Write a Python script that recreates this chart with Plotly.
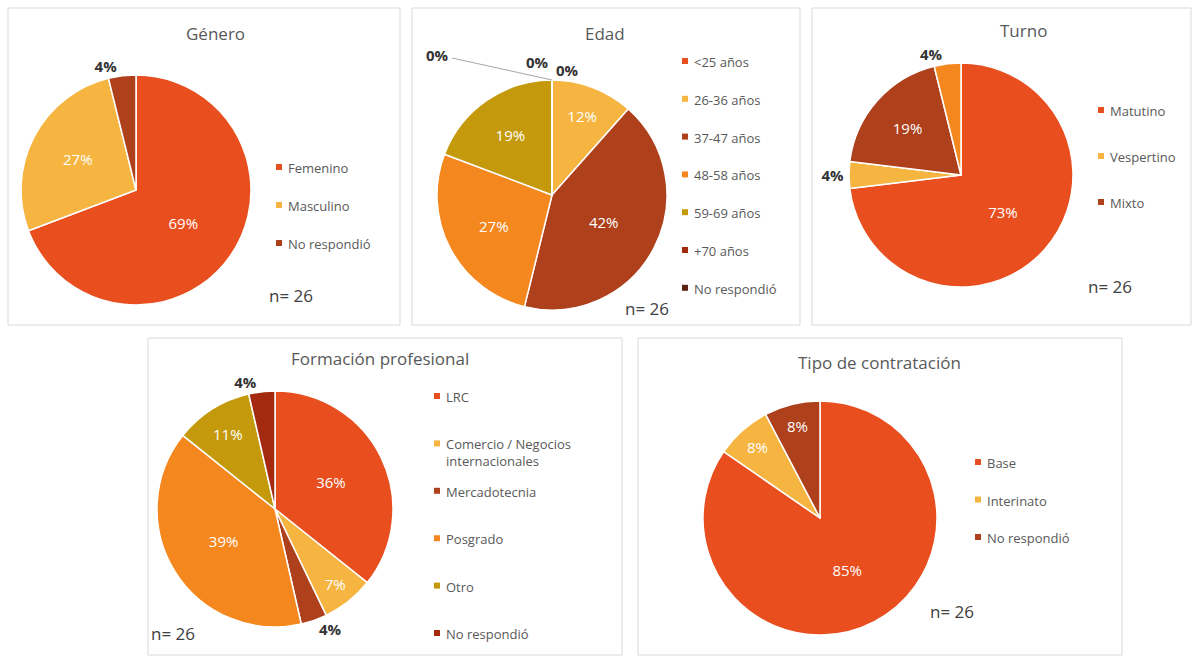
import textwrap
import plotly.graph_objects as go

# ---------------- data ----------------
n_respondents = 26

genero_title = "Género"
genero_labels = ["Femenino", "Masculino", "No respondió"]
genero_values = [18, 7, 1]

edad_title = "Edad"
edad_labels = ["<25 años", "26-36 años", "37-47 años", "48-58 años", "59-69 años", "+70 años", "No respondió"]
edad_values = [0, 3, 11, 7, 5, 0, 0]

turno_title = "Turno"
turno_labels = ["Matutino", "Vespertino", "Mixto", "No respondió"]
turno_values = [19, 1, 5, 1]

formacion_title = "Formación profesional"
formacion_labels = ["LRC", "Comercio / Negocios internacionales", "Mercadotecnia", "Posgrado", "Otro", "No respondió"]
formacion_values = [10, 2, 1, 11, 3, 1]

contratacion_title = "Tipo de contratación"
contratacion_labels = ["Base", "Interinato", "No respondió"]
contratacion_values = [22, 2, 2]

# ---------------- styling ----------------
W, H = 1193, 658
FONT = "Open Sans"
PALETTE = ["#E84E1E", "#F6B441", "#AE401C", "#F5871F", "#C49A0C", "#A32A0E", "#5C2314"]
TITLE_COLOR = "#595959"
LEGEND_COLOR = "#595959"


def px(x):
    return x / W


def py(y):
    return 1 - y / H


panels = [
    dict(title=genero_title, labels=genero_labels, values=genero_values,
         box=(8, 8, 400, 325), center=(136, 190), r=115, title_xy=(215, 33),
         pos=["inside", "inside", "outside"], colors=[0, 1, 2],
         leg_x=279, leg_y0=167, leg_dy=38, leg_n=3, n_xy=(291, 296)),
    dict(title=edad_title, labels=edad_labels, values=edad_values,
         box=(412, 8, 800, 325), center=(552, 195), r=115, title_xy=(605, 34),
         pos=["outside", "inside", "inside", "inside", "inside", "outside", "outside"],
         colors=[0, 1, 2, 3, 4, 5, 6],
         leg_x=685, leg_y0=61, leg_dy=37.8, leg_n=7, n_xy=(647, 308),
         zero_xy=[(567, 70), None, None, None, None, (537, 62), (437, 55)]),
    dict(title=turno_title, labels=turno_labels, values=turno_values,
         box=(812, 8, 1191, 325), center=(961, 175), r=112, title_xy=(1023, 30),
         pos=["inside", "outside", "inside", "outside"], colors=[0, 1, 2, 3],
         leg_x=1101, leg_y0=110, leg_dy=46, leg_n=3, n_xy=(1110, 286)),
    dict(title=formacion_title, labels=formacion_labels, values=formacion_values,
         box=(148, 338, 622, 655), center=(275, 509), r=118, title_xy=(380, 358),
         pos=["inside", "inside", "outside", "inside", "inside", "outside"],
         colors=[0, 1, 2, 3, 4, 5],
         leg_x=437, leg_y0=396, leg_dy=47.4, leg_n=6, n_xy=(173, 633)),
    dict(title=contratacion_title, labels=contratacion_labels, values=contratacion_values,
         box=(638, 338, 1122, 655), center=(820, 518), r=117, title_xy=(879, 362),
         pos=["inside", "inside", "inside"], colors=[0, 1, 2],
         leg_x=978, leg_y0=462, leg_dy=37.5, leg_n=3, n_xy=(952, 611)),
]

fig = go.Figure()
shapes = []
annotations = []

for p in panels:
    x0, y0, x1, y1 = p["box"]
    shapes.append(dict(type="rect", xref="paper", yref="paper",
                       x0=px(x0), x1=px(x1), y0=py(y1), y1=py(y0),
                       line=dict(color="#D9D9D9", width=1), fillcolor="rgba(0,0,0,0)",
                       layer="below"))
    cx, cy = p["center"]
    r = p["r"]
    cols = [PALETTE[i] for i in p["colors"]]
    templates = ["%{percent:.0%}" if v > 0 else "" for v in p["values"]]
    fig.add_trace(go.Pie(
        labels=p["labels"], values=p["values"],
        sort=False, direction="clockwise", rotation=0,
        domain=dict(x=[px(cx - r), px(cx + r)], y=[py(cy + r), py(cy - r)]),
        marker=dict(colors=cols, line=dict(color="#FFFFFF", width=1.5)),
        texttemplate=templates, textposition=p["pos"],
        insidetextorientation="horizontal",
        insidetextfont=dict(family=FONT, size=15, color="#FFFFFF"),
        outsidetextfont=dict(family=FONT, size=15, color="#333333", weight="bold"),
        showlegend=False, hoverinfo="label+percent",
    ))
    # title
    tx, ty = p["title_xy"]
    annotations.append(dict(x=px(tx), y=py(ty), xref="paper", yref="paper",
                            text=p["title"], showarrow=False, xanchor="center", yanchor="middle",
                            font=dict(family=FONT, size=17, color=TITLE_COLOR)))
    # legend
    for i in range(p["leg_n"]):
        ly = p["leg_y0"] + i * p["leg_dy"]
        lx = p["leg_x"]
        shapes.append(dict(type="rect", xref="paper", yref="paper",
                           x0=px(lx - 3), x1=px(lx + 3), y0=py(ly + 3), y1=py(ly - 3),
                           line=dict(width=0), fillcolor=cols[i]))
        text = "<br>".join(textwrap.wrap(p["labels"][i], 20))
        annotations.append(dict(x=px(lx + 7), y=py(ly - 10), xref="paper", yref="paper",
                                text=text, showarrow=False, xanchor="left", yanchor="top",
                                align="left",
                                font=dict(family=FONT, size=13, color=LEGEND_COLOR)))
    # n label
    nx, ny = p["n_xy"]
    annotations.append(dict(x=px(nx), y=py(ny), xref="paper", yref="paper",
                            text=f"n= {n_respondents}", showarrow=False,
                            xanchor="center", yanchor="middle",
                            font=dict(family=FONT, size=17, color="#404040")))
    # zero-valued slice labels
    if "zero_xy" in p:
        total = sum(p["values"])
        for v, xy in zip(p["values"], p["zero_xy"]):
            if xy is None or v != 0:
                continue
            annotations.append(dict(x=px(xy[0]), y=py(xy[1]), xref="paper", yref="paper",
                                    text=f"{v / total:.0%}", showarrow=False,
                                    xanchor="center", yanchor="middle",
                                    font=dict(family=FONT, size=15, color="#333333", weight="bold")))
        # leader line for the farthest zero label
        shapes.append(dict(type="line", xref="paper", yref="paper",
                           x0=px(452), y0=py(58), x1=px(cx), y1=py(cy - r),
                           line=dict(color="#A6A6A6", width=1)))

fig.update_layout(
    width=W, height=H,
    margin=dict(l=0, r=0, t=0, b=0),
    paper_bgcolor="#FFFFFF", plot_bgcolor="#FFFFFF",
    font=dict(family=FONT),
    shapes=shapes, annotations=annotations,
    showlegend=False,
)

fig.write_html("out.html")
